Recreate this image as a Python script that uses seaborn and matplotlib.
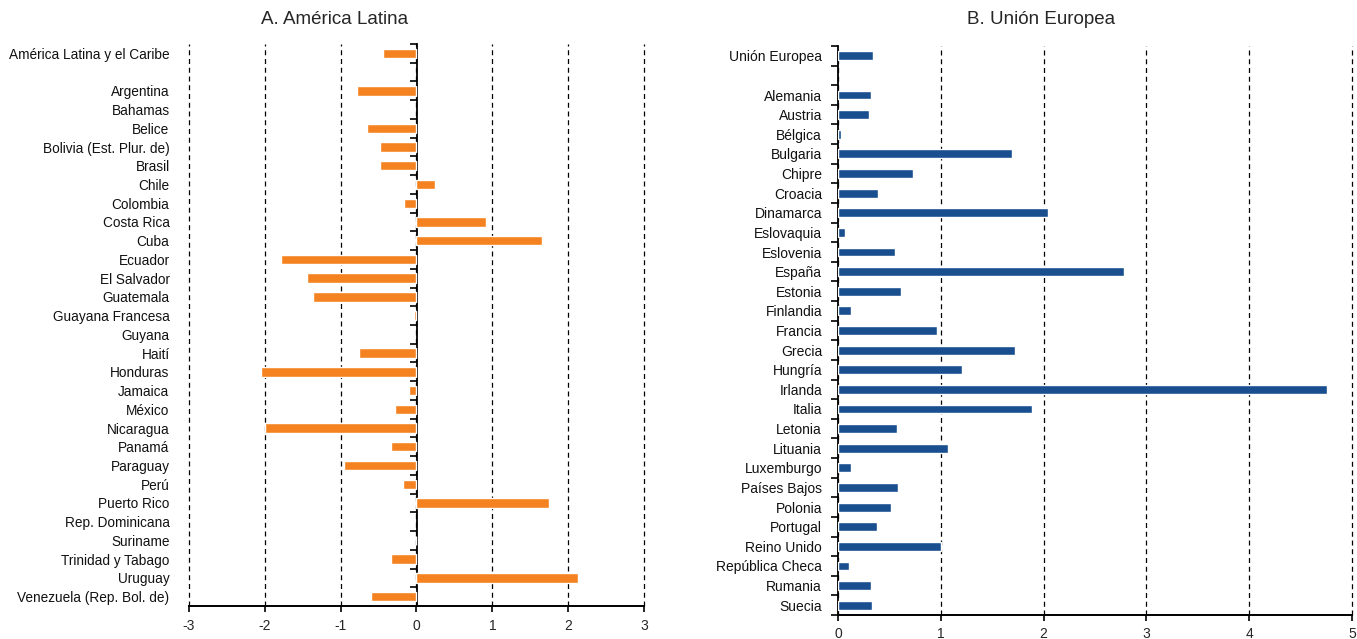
import numpy as np
import pandas as pd
import matplotlib
matplotlib.use('Agg')
import matplotlib.pyplot as plt
import seaborn as sns

# Panel A: América Latina
LAT_NAMES = ['América Latina y el Caribe', ' ', 'Argentina', 'Bahamas', 'Belice',
             'Bolivia (Est. Plur. de)', 'Brasil', 'Chile', 'Colombia', 'Costa Rica',
             'Cuba', 'Ecuador', 'El Salvador', 'Guatemala', 'Guayana Francesa',
             'Guyana', 'Haití', 'Honduras', 'Jamaica', 'México', 'Nicaragua',
             'Panamá', 'Paraguay', 'Perú', 'Puerto Rico', 'Rep. Dominicana',
             'Suriname', 'Trinidad y Tabago', 'Uruguay', 'Venezuela (Rep. Bol. de)']
LAT_VALUES = [-0.44, np.nan, -0.79, np.nan, -0.65,
              -0.48, -0.48, 0.24, -0.16, 0.92,
              1.65, -1.79, -1.44, -1.37, -0.03,
              np.nan, -0.76, -2.05, -0.10, -0.29, -2.00,
              -0.34, -0.95, -0.18, 1.75, np.nan,
              -0.01, -0.34, 2.13, -0.60]
LAT_TICKS = [-3, -2, -1, 0, 1, 2, 3]

# Panel B: Unión Europea
UE_NAMES = ['Unión Europea', ' ', 'Alemania', 'Austria', 'Bélgica', 'Bulgaria',
            'Chipre', 'Croacia', 'Dinamarca', 'Eslovaquia', 'Eslovenia', 'España',
            'Estonia', 'Finlandia', 'Francia', 'Grecia', 'Hungría', 'Irlanda',
            'Italia', 'Letonia', 'Lituania', 'Luxemburgo', 'Países Bajos',
            'Polonia', 'Portugal', 'Reino Unido', 'República Checa', 'Rumania',
            'Suecia']
UE_VALUES = [0.34, np.nan, 0.32, 0.30, 0.03, 1.69,
             0.73, 0.39, 2.04, 0.07, 0.55, 2.78,
             0.61, 0.13, 0.96, 1.72, 1.21, 4.76,
             1.89, 0.57, 1.07, 0.13, 0.58,
             0.52, 0.38, 1.00, 0.11, 0.32,
             0.33]
UE_TICKS = [0, 1, 2, 3, 4, 5]

ORANGE = '#F58220'
BLUE = '#1A4F8F'

sns.set_theme(style='ticks')
plt.rcParams['font.family'] = ['Liberation Sans', 'DejaVu Sans']
plt.rcParams['axes.linewidth'] = 1.4


def draw_panel(ax, names, values, ticks, color, bar_width, label_pad, spine_at, fs):
    df = pd.DataFrame({'pais': names, 'valor': values})
    sns.barplot(data=df, x='valor', y='pais', order=names, orient='h',
                color=color, width=bar_width, errorbar=None, saturation=1, ax=ax)
    n = len(names)
    ax.set_xlim(ticks[0], ticks[-1])
    ax.set_ylim(n - 0.5, -0.5)
    ax.set_xticks(ticks)
    ax.set_xticklabels([str(t) for t in ticks], fontsize=10)
    ax.set_xlabel('')
    ax.set_ylabel('')
    for t in ticks:
        ax.axvline(t, color='black', linestyle=(0, (4, 3)), linewidth=0.9,
                   zorder=0, clip_on=False)
    ax.tick_params(axis='x', direction='out', length=4, width=1.2, color='black', pad=5)
    ax.tick_params(axis='y', length=0, pad=label_pad, labelsize=fs)
    for lab in ax.get_yticklabels():
        lab.set_color('#111111')
    ax.spines['top'].set_visible(False)
    ax.spines['right'].set_visible(False)
    ax.spines['left'].set_visible(False)
    ax.spines['bottom'].set_color('black')
    # category separator ticks on the axis line
    sec = ax.secondary_yaxis(spine_at)
    sec.set_alignment('left')
    sec.set_yticks(np.arange(n + 1) - 0.5)
    sec.set_yticklabels([])
    sec.tick_params(axis='y', direction='out', length=5, width=1.2, color='black')
    sec.spines['left'].set_color('black')
    sec.spines['left'].set_linewidth(1.3)
    return sec


fig = plt.figure(figsize=(13.57, 6.39), dpi=100)
ax1 = fig.add_axes([189 / 1357, 1 - 606 / 639, (644 - 189) / 1357, (606 - 44) / 639])
ax2 = fig.add_axes([838 / 1357, 1 - 615 / 639, (1352 - 838) / 1357, (615 - 46) / 639])

draw_panel(ax1, LAT_NAMES, LAT_VALUES, LAT_TICKS, ORANGE, 0.5, 14, 0.5, 9.8)
draw_panel(ax2, UE_NAMES, UE_VALUES, UE_TICKS, BLUE, 0.45, 11.5, 0.0, 10)

fig.text(335 / 1357, 1 - 19 / 639, 'A. América Latina', ha='center', va='center', fontsize=13.5)
fig.text(1041 / 1357, 1 - 19 / 639, 'B. Unión Europea', ha='center', va='center', fontsize=13.5)

fig.savefig('out.png', dpi=100)
